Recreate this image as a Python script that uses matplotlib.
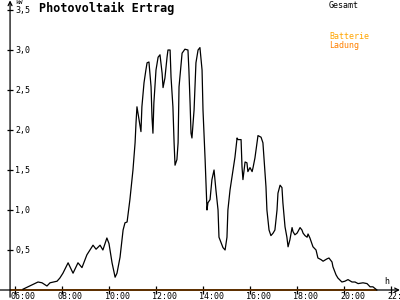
import matplotlib
matplotlib.use("Agg")
import matplotlib.pyplot as plt
from matplotlib.transforms import offset_copy

# PV output (kW) over the day (hour)
hours = [6.34, 6.55, 6.98, 7.15, 7.36, 7.49, 7.79, 7.91, 8.04, 8.26, 8.34, 8.47, 8.68, 8.85,
         9.06, 9.32, 9.45, 9.62, 9.74, 9.91, 10.0, 10.13, 10.26, 10.34, 10.47, 10.6, 10.68,
         10.77, 10.89, 11.02, 11.11, 11.15, 11.19, 11.28, 11.36, 11.40, 11.49, 11.57, 11.62,
         11.70, 11.79, 11.83, 11.87, 11.91, 12.0, 12.09, 12.17, 12.26, 12.30, 12.38, 12.47,
         12.51, 12.60, 12.64, 12.72, 12.77, 12.81, 12.89, 12.94, 12.98, 13.11, 13.23, 13.36,
         13.40, 13.45, 13.49, 13.53, 13.62, 13.70, 13.79, 13.87, 13.96, 14.0, 14.09, 14.17,
         14.21, 14.30, 14.38, 14.47, 14.55, 14.64, 14.68, 14.77, 14.85, 14.94, 15.02, 15.06,
         15.15, 15.28, 15.36, 15.45, 15.49, 15.62, 15.66, 15.70, 15.79, 15.87, 15.91, 16.0,
         16.09, 16.13, 16.21, 16.30, 16.34, 16.47, 16.55, 16.60, 16.68, 16.72, 16.81, 16.89,
         16.98, 17.06, 17.15, 17.19, 17.28, 17.36, 17.40, 17.49, 17.57, 17.62, 17.70, 17.79,
         17.83, 17.91, 18.0, 18.04, 18.13, 18.21, 18.26, 18.34, 18.43, 18.47, 18.55, 18.68,
         18.81, 18.89, 19.02, 19.11, 19.28, 19.36, 19.49, 19.53, 19.66, 19.74, 19.91, 20.04,
         20.17, 20.34, 20.47, 20.60, 20.81, 20.98, 21.11, 21.23, 21.40]
kw = [0.01, 0.04, 0.10, 0.09, 0.05, 0.09, 0.11, 0.15, 0.21, 0.34, 0.29, 0.21, 0.34, 0.28,
      0.44, 0.56, 0.51, 0.56, 0.50, 0.65, 0.58, 0.34, 0.16, 0.21, 0.41, 0.75, 0.84,
      0.85, 1.13, 1.50, 1.84, 2.09, 2.29, 2.13, 1.98, 2.29, 2.59, 2.75, 2.84,
      2.85, 2.54, 2.16, 1.96, 2.34, 2.75, 2.91, 2.94, 2.71, 2.53, 2.65, 2.91,
      3.0, 3.0, 2.66, 2.29, 1.84, 1.56, 1.63, 1.84, 2.54, 2.96, 3.01, 3.0,
      2.75, 2.34, 1.96, 1.90, 2.25, 2.84, 3.0, 3.03, 2.75, 2.25, 1.63, 1.0,
      1.09, 1.13, 1.38, 1.5, 1.25, 1.0, 0.66, 0.59, 0.53, 0.5, 0.66, 1.0,
      1.25, 1.5, 1.66, 1.9, 1.88, 1.88, 1.54, 1.38, 1.6, 1.59, 1.48, 1.53,
      1.48, 1.53, 1.65, 1.84, 1.93, 1.91, 1.84, 1.63, 1.29, 1.0, 0.75, 0.68,
      0.71, 0.75, 1.0, 1.21, 1.31, 1.28, 1.09, 0.79, 0.66, 0.54, 0.63, 0.78,
      0.73, 0.69, 0.71, 0.73, 0.78, 0.75, 0.71, 0.68, 0.66, 0.70, 0.65, 0.54,
      0.5, 0.4, 0.38, 0.36, 0.39, 0.40, 0.35, 0.29, 0.19, 0.15, 0.10, 0.11,
      0.13, 0.10, 0.10, 0.08, 0.09, 0.08, 0.04, 0.04, 0.0]

# battery charging series (zero all day)
charge_hours = [5.79, 21.4]
charge_kw = [0.0, 0.0]

x_ticks = [6, 8, 10, 12, 14, 16, 18, 20, 22]
x_labels = ["06:00", "08:00", "10:00", "12:00", "14:00", "16:00", "18:00", "20:00", "22:00"]
y_ticks = [0.5, 1.0, 1.5, 2.0, 2.5, 3.0, 3.5]
y_labels = ["0,5", "1,0", "1,5", "2,0", "2,5", "3,0", "3,5"]

mono = "DejaVu Sans Mono"
y_axis_x = 5.79

fig = plt.figure(figsize=(4, 3), dpi=100)
fig.patch.set_facecolor("white")
ax = fig.add_axes([0, 0, 1, 1])
ax.set_xlim(5.362, 22.383)
ax.set_ylim(-0.125, 3.625)
ax.axis("off")

# axes with arrows
ax.annotate("", xy=(22.38, 0), xytext=(5.36, 0),
            arrowprops=dict(arrowstyle="->", lw=0.9, color="black", shrinkA=0, shrinkB=0, mutation_scale=7))
ax.annotate("", xy=(y_axis_x, 3.62), xytext=(y_axis_x, -0.09),
            arrowprops=dict(arrowstyle="->", lw=0.9, color="black", shrinkA=0, shrinkB=0, mutation_scale=7))

# ticks
ax.plot(x_ticks, [0] * len(x_ticks), ls="none", marker="|", ms=6, mew=0.9, color="black")
ax.plot([y_axis_x] * len(y_ticks), y_ticks, ls="none", marker="_", ms=5, mew=0.9, color="black")

xlab_tr = offset_copy(ax.transData, fig=fig, x=-4, y=-2, units="dots")
for t, lab in zip(x_ticks, x_labels):
    ax.text(t, 0, lab, transform=xlab_tr, ha="left", va="top", fontsize=6, family=mono, clip_on=False)
ylab_tr = offset_copy(ax.transData, fig=fig, x=5, y=-1, units="dots")
for t, lab in zip(y_ticks, y_labels):
    ax.text(y_axis_x, t, lab, transform=ylab_tr, ha="left", va="center", fontsize=6, family=mono)

# series
ax.plot(charge_hours, charge_kw, color="#FF8000", lw=1.4, solid_capstyle="butt")
ax.plot(hours, kw, color="black", lw=0.9)

# texts
fig.text(15 / 400, 1 - 0.5 / 300, "kW", fontsize=4.5, family=mono, va="top", ha="left")
fig.text(39 / 400, 1 - 2 / 300, "Photovoltaik Ertrag", fontsize=8.5, family=mono,
         fontweight="bold", va="top", ha="left")
fig.text(329 / 400, 1 - 1 / 300, "Gesamt", fontsize=6, family=mono, va="top", ha="left")
fig.text(329 / 400, 1 - 32 / 300, "Batterie", fontsize=6, family=mono, va="top", ha="left", color="#FFA500")
fig.text(329 / 400, 1 - 41 / 300, "Ladung", fontsize=6, family=mono, va="top", ha="left", color="#FF8000")
fig.text(384 / 400, 1 - 277 / 300, "h", fontsize=6, family=mono, va="top", ha="left")

fig.savefig("out.png", dpi=100, facecolor="white")
